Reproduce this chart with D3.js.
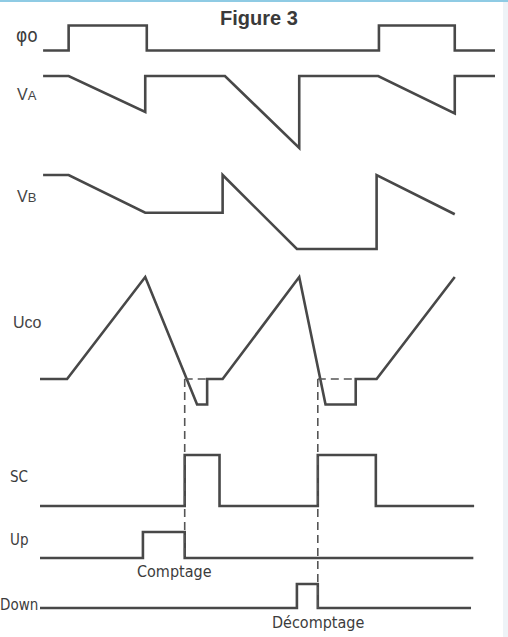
<!DOCTYPE html>
<html>
<head>
<meta charset="utf-8">
<script src="https://cdn.jsdelivr.net/npm/d3@7"></script>
<style>
  body { margin: 0; background: #fff; }
  svg { display: block; }
  .sig { fill: none; stroke: #484848; stroke-width: 2.6; stroke-linejoin: miter; }
  .dash { fill: none; stroke: #555; stroke-width: 1.6; stroke-dasharray: 8 5; }
  .lbl { fill: #3c3c3c; font-family: "DejaVu Sans Condensed", "DejaVu Sans", sans-serif; font-size: 15px; }
  .lbl2 { fill: #444; font-family: "Liberation Sans", Arial, sans-serif; font-size: 15px; }
</style>
</head>
<body>
<svg id="chart" width="508" height="637"></svg>
<script>
// time runs in tenths of a clock period; levels are normalised (0 = low, 1 = high)
const phi0 = [[-3.2, 0], [0.1, 0], [0.1, 1], [10.2, 1], [10.2, 0], [40.2, 0], [40.2, 1], [50, 1], [50, 0], [55.2, 0]];
const vA = [[-3.2, 1], [0.1, 1], [10, 0.5], [10, 1], [20.3, 1], [29.9, 0], [29.9, 1], [40.1, 1], [50, 0.48], [50, 1], [55.2, 1]];
const vB = [[-3.2, 1], [0.1, 1], [10, 0.49], [20, 0.49], [20, 1], [29.6, 0], [39.9, 0], [39.9, 1], [50, 0.47]];
const uco = [[-3.6, 0], [-0.1, 0], [10, 1], [16.7, -0.25], [18, -0.25], [18, 0], [20, 0], [29.9, 1], [33.3, -0.25], [37.2, -0.25], [37.2, 0], [39.9, 0], [50, 1]];
const sc = [[-3.6, 0], [15.1, 0], [15.1, 1], [19.6, 1], [19.6, 0], [32.3, 0], [32.3, 1], [39.8, 1], [39.8, 0], [52.5, 0]];
const up = [[-3.6, 0], [9.7, 0], [9.7, 1], [15.1, 1], [15.1, 0], [52.4, 0]];
const down = [[-3.6, 0], [29.6, 0], [29.6, 1], [32.3, 1], [32.3, 0], [52.1, 0]];
// dashed reference marks: uco zero level during the dips, and the two switching instants
const ucoDashes = [[15.1, 18], [32.3, 37.2]];
const switchTimes = [15.1, 32.3];
const switchTargets = ["up", "down"];

const svg = d3.select("#chart");
const x = d3.scaleLinear().domain([-3.6, 55.2]).range([40, 495]);

// each trace gets its own vertical scale (pixel of level 0, pixel of level 1)
const rows = {
  phi0: [50.5, 25.5],
  vA: [148, 76],
  vB: [249, 175],
  uco: [379, 277],
  sc: [506, 455],
  up: [558, 532],
  down: [608, 584],
};
const y = {};
for (let k in rows) y[k] = d3.scaleLinear().domain([0, 1]).range(rows[k]);

// frame bits from the scanned page
svg.append("rect").attr("x", 0).attr("y", 0).attr("width", 508).attr("height", 2).attr("fill", "#8fcbe4");
svg.append("rect").attr("x", 503).attr("y", 2).attr("width", 5).attr("height", 635).attr("fill", "#eef3f7");

svg.append("text")
  .attr("x", 220).attr("y", 25)
  .attr("fill", "#3a3a3a")
  .style("font-family", "Liberation Sans, Arial, sans-serif")
  .style("font-weight", "bold")
  .style("font-size", "20px")
  .text("Figure 3");

const signals = { phi0, vA, vB, uco, sc, up, down };
for (let k in signals) {
  const line = d3.line().x((d) => x(d[0])).y((d) => y[k](d[1]));
  svg.append("path").attr("class", "sig").attr("d", line(signals[k]));
}

// dashed lines
ucoDashes.forEach((d) => {
  svg.append("line").attr("class", "dash")
    .attr("x1", x(d[0])).attr("x2", x(d[1]))
    .attr("y1", y.uco(0)).attr("y2", y.uco(0));
});
switchTimes.forEach((t, i) => {
  svg.append("line").attr("class", "dash")
    .attr("x1", x(t)).attr("x2", x(t))
    .attr("y1", y.uco(0)).attr("y2", y[switchTargets[i]](0));
});

// labels
const lab = svg.append("g");
lab.append("text").attr("class", "lbl").attr("x", 16).attr("y", 42).style("font-size", "19px").text("φo");
const va = lab.append("text").attr("class", "lbl2").attr("x", 17).attr("y", 100).style("font-size", "16px").text("V");
va.append("tspan").style("font-size", "13px").text("A");
const vb = lab.append("text").attr("class", "lbl2").attr("x", 17).attr("y", 202).style("font-size", "16px").text("V");
vb.append("tspan").style("font-size", "13px").text("B");
lab.append("text").attr("class", "lbl2").attr("x", 13).attr("y", 328).style("font-size", "16px").text("Uco");
lab.append("text").attr("class", "lbl").attr("x", 10).attr("y", 482).text("SC");
lab.append("text").attr("class", "lbl").attr("x", 10).attr("y", 545).text("Up");
lab.append("text").attr("class", "lbl").attr("x", 0).attr("y", 610).text("Down");
lab.append("text").attr("class", "lbl").attr("x", 137).attr("y", 577).style("font-size", "16px").text("Comptage");
lab.append("text").attr("class", "lbl").attr("x", 272).attr("y", 628).style("font-size", "16px").text("Décomptage");
</script>
</body>
</html>
